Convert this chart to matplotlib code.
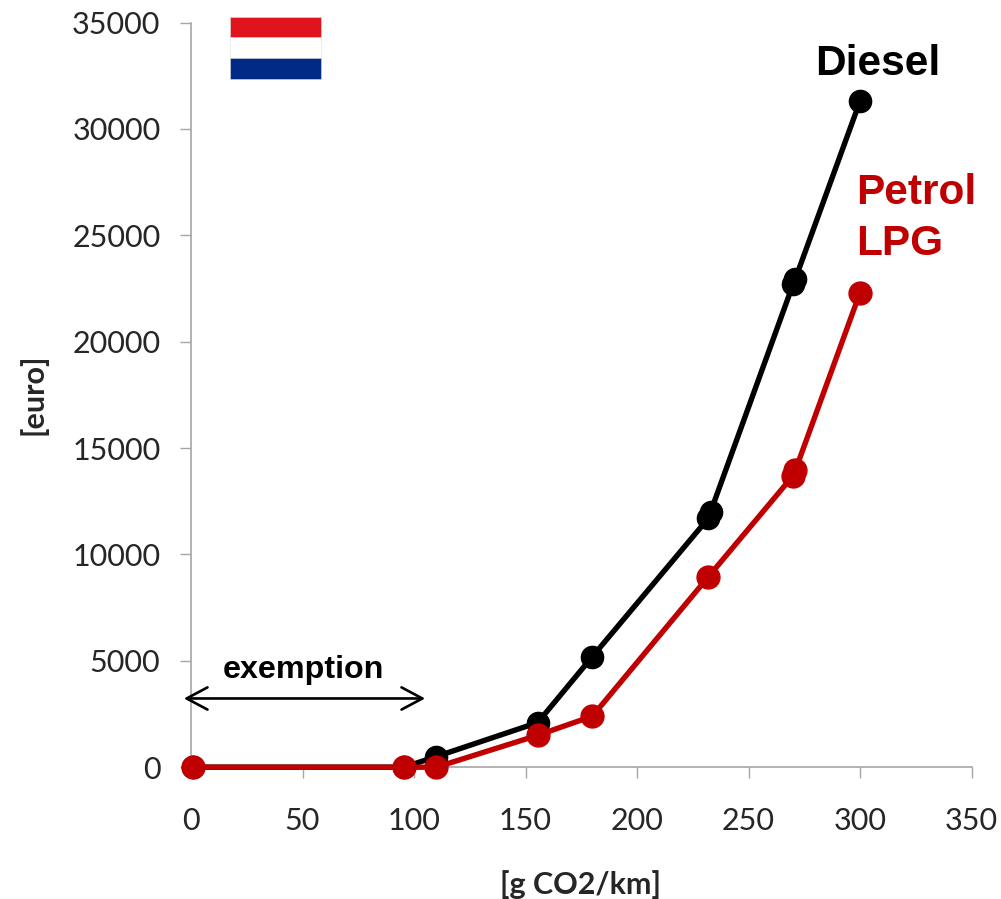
import matplotlib.pyplot as plt
from matplotlib.patches import Rectangle

# Registration tax curves
dieselCo2 = [1, 95.5, 110, 155.5, 180, 232, 233, 270, 271, 300]
dieselTax = [0, 0, 500, 2100, 5200, 11700, 12000, 22700, 22950, 31300]
petrolCo2 = [1, 95.5, 110, 155.5, 180, 232, 270, 271, 300]
petrolTax = [0, 0, 0, 1500, 2400, 8950, 13700, 13950, 22300]

xTicks = [0, 50, 100, 150, 200, 250, 300, 350]
yTicks = [0, 5000, 10000, 15000, 20000, 25000, 30000, 35000]

WIDTH, HEIGHT = 1001, 899
BLACK = '#000000'
RED = '#c00000'
AXIS_GREY = '#a6a6a6'
TICK_TEXT = '#262626'

fig = plt.figure(figsize=(WIDTH / 100, HEIGHT / 100), dpi=100)

# Plot area placed in pixels
left, right, top, bottom = 191, 971.5, 22.5, 767.2
ax = fig.add_axes([left / WIDTH, 1 - bottom / HEIGHT, (right - left) / WIDTH, (bottom - top) / HEIGHT])
ax.set_xlim(0, 350)
ax.set_ylim(0, 35000)

ax.plot(dieselCo2, dieselTax, color=BLACK, lw=3.9, marker='o', ms=16, clip_on=False, zorder=3)
ax.plot(petrolCo2, petrolTax, color=RED, lw=3.9, marker='o', ms=16.5, clip_on=False, zorder=4)

for side in ['top', 'right']:
    ax.spines[side].set_visible(False)
for side in ['left', 'bottom']:
    ax.spines[side].set_color(AXIS_GREY)
    ax.spines[side].set_linewidth(1.2)

ax.set_xticks(xTicks)
ax.set_yticks(yTicks)
ax.tick_params(axis='both', color=AXIS_GREY, width=1, length=8, labelcolor=TICK_TEXT, labelsize=22)
ax.tick_params(axis='x', pad=21)
ax.tick_params(axis='y', pad=14)
for label in ax.get_xticklabels() + ax.get_yticklabels():
    label.set_fontfamily('Lato')

# Axis titles sit at fixed pixel positions
fig.text(581 / WIDTH, 1 - 885 / HEIGHT, '[g CO2/km]', fontsize=22, fontfamily='Lato', fontweight='bold',
         color=TICK_TEXT, ha='center', va='center')
fig.text(33 / WIDTH, 1 - 394 / HEIGHT, '[euro]', fontsize=22, fontfamily='Lato', fontweight='bold',
         color=TICK_TEXT, ha='center', va='center', rotation=90)

# Series names
fig.text(878 / WIDTH, 1 - 64 / HEIGHT, 'Diesel', fontsize=30.5, fontfamily='Liberation Sans', fontweight='bold',
         color=BLACK, ha='center', va='center')
fig.text(856 / WIDTH, 1 - 193 / HEIGHT, 'Petrol', fontsize=30.5, fontfamily='Liberation Sans', fontweight='bold',
         color=RED, ha='left', va='center')
fig.text(856 / WIDTH, 1 - 244 / HEIGHT, 'LPG', fontsize=30.5, fontfamily='Liberation Sans', fontweight='bold',
         color=RED, ha='left', va='center')

# Exemption span
ax.annotate('', xy=(-3.2, 3230), xytext=(105, 3230), annotation_clip=False,
            arrowprops=dict(arrowstyle='<->,head_length=0.75,head_width=0.4', color=BLACK, lw=1.9,
                            mutation_scale=20, shrinkA=0, shrinkB=0))
fig.text(303.5 / WIDTH, 1 - 670 / HEIGHT, 'exemption', fontsize=23.2, fontfamily='Liberation Sans', fontweight='bold',
         color=BLACK, ha='center', va='center')

# Dutch flag
flagColors = ['#e0141c', '#ffffff', '#002a85']
for i, color in enumerate(flagColors):
    y0 = 17 + i * 20.5
    fig.add_artist(Rectangle((230 / WIDTH, 1 - (y0 + 20.5) / HEIGHT), 91 / WIDTH, 20.5 / HEIGHT,
                             transform=fig.transFigure, facecolor=color, edgecolor='#dddddd', lw=0.4))

fig.savefig('out.png', dpi=100)
